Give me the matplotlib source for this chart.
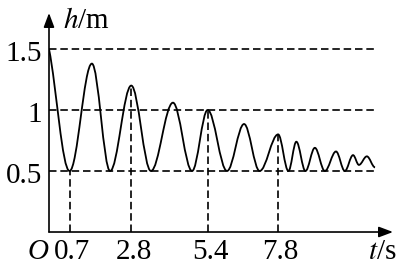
import matplotlib.pyplot as plt
from matplotlib.path import Path
from matplotlib.patches import PathPatch

plt.rcParams['font.family'] = ['Liberation Serif', 'DejaVu Serif']
plt.rcParams['mathtext.fontset'] = 'stix'

# turning points of the curve (time in s, height in m)
t_pts = [0, 0.7, 1.46, 2.08, 2.8, 3.47, 4.22, 4.87, 5.4, 6.06, 6.64, 7.17, 7.8,
         8.15, 8.42, 8.73, 9.05, 9.39, 9.77, 10.07, 10.35, 10.55, 10.82, 11.1]
h_pts = [1.5, 0.5, 1.38, 0.5, 1.2, 0.5, 1.06, 0.5, 1.0, 0.5, 0.885, 0.5, 0.8,
         0.5, 0.74, 0.5, 0.69, 0.5, 0.66, 0.5, 0.63, 0.55, 0.62, 0.53]

h_levels = [0.5, 1, 1.5]
h_labels = ['0.5', '1', '1.5']
t_marks = [0.7, 2.8, 5.4, 7.8]
t_tops = [0.5, 1.2, 1.0, 0.8]
t_labels = ['0.7', '2.8', '5.4', '7.8']

fig = plt.figure(figsize=(4, 2.65), dpi=100)
ax = fig.add_axes([0.1225, 0.1245, 0.86, 0.8265])
ax.set_xlim(0, 11.71)
ax.set_ylim(0, 1.795)
ax.set_axis_off()

dash = (0, (4.5, 2.3))
ax.hlines(h_levels, 0, 11.05, colors='k', linestyles=dash, lw=1.2)
ax.vlines(t_marks, 0, t_tops, colors='k', linestyles=dash, lw=1.2)

# smooth curve through the turning points (cubic bezier pieces)
k = 0.36
verts = [(t_pts[0], h_pts[0])]
codes = [Path.MOVETO]
for i in range(len(t_pts) - 1):
    t0, h0 = t_pts[i], h_pts[i]
    t1, h1 = t_pts[i + 1], h_pts[i + 1]
    dt = t1 - t0
    if i == 0:
        c1 = (t0 + k * dt, h0 - 0.3 * (h0 - h1))
    else:
        c1 = (t0 + k * dt, h0)
    c2 = (t1 - k * dt, h1)
    verts += [c1, c2, (t1, h1)]
    codes += [Path.CURVE4] * 3
ax.add_patch(PathPatch(Path(verts, codes), fc='none', ec='k', lw=1.3))

# axes with arrows
arrow = dict(arrowstyle='-|>,head_length=0.85,head_width=0.32', mutation_scale=10,
             lw=1.2, color='k', shrinkA=0, shrinkB=0)
ax.annotate('', xy=(0, 1), xytext=(0, 0), xycoords='axes fraction', arrowprops=arrow)
ax.annotate('', xy=(1, 0), xytext=(0, 0), xycoords='axes fraction', arrowprops=arrow)

fs = 21
yb = -0.225
for h, lab in zip(h_levels, h_labels):
    ax.text(-0.24, h - 0.1, lab, ha='right', va='baseline', fontsize=fs)
for t, lab in zip(t_marks, t_labels):
    ax.text(t + 0.08, yb, lab, ha='center', va='baseline', fontsize=fs)
ax.text(-0.39, yb, 'O', ha='center', va='baseline', fontsize=fs, style='italic')
ax.text(0.48, 1.672, '$h$/m', ha='left', va='baseline', fontsize=fs)
ax.text(10.86, yb, '$t$/s', ha='left', va='baseline', fontsize=fs)

fig.savefig('out.png', dpi=100)
